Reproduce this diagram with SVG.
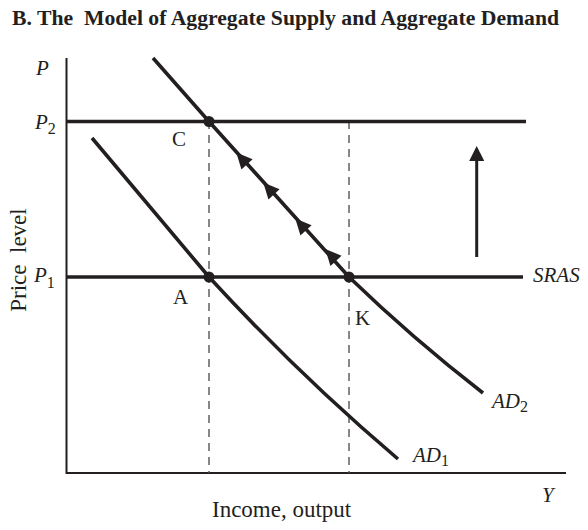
<svg xmlns="http://www.w3.org/2000/svg" width="588" height="530" viewBox="0 0 588 530">
<style>
.t{font-family:"Liberation Serif","Times New Roman",serif;fill:#231f20}
.it{font-style:italic}
.sub{font-style:normal;font-size:16px}
.axis{stroke:#231f20;stroke-width:2;fill:none}
.curve{stroke:#231f20;stroke-width:3.6;fill:none}
.hline{stroke:#231f20;stroke-width:3.5}
.dash{stroke:#555;stroke-width:1.4;stroke-dasharray:8,6}
.dot{fill:#231f20}
</style>
<defs>
<marker id="ah" viewBox="0 0 10 10" refX="2" refY="5" markerWidth="5" markerHeight="5" orient="auto" markerUnits="strokeWidth"><path d="M0,0 L10,5 L0,10 z" fill="#231f20"/></marker>
<path id="head" d="M0,0 L16,-7.5 L16,7.5 z" fill="#231f20"/>
</defs>
<rect width="588" height="530" fill="#fff"/>
<text class="t" x="12" y="25" font-size="21.7" font-weight="bold" xml:space="preserve">B. The  Model of Aggregate Supply and Aggregate Demand</text>
<g id="axes">
<path class="axis" d="M66.5,58 V473 H566"/>
<text class="t it" x="36" y="75" font-size="21">P</text>
<text class="t it" x="542" y="502" font-size="21">Y</text>
<text class="t" x="212" y="517" font-size="23">Income, output</text>
<text class="t" font-size="23" text-anchor="middle" transform="translate(25.5,260) rotate(-90)" xml:space="preserve">Price  level</text>
</g>
<g id="guides">
<line class="dash" x1="209" y1="121" x2="209" y2="473"/>
<line class="dash" x1="349" y1="121" x2="349" y2="473"/>
</g>
<g id="P2-line">
<line class="hline" x1="66" y1="121.5" x2="526" y2="121.5"/>
<text class="t it" x="35" y="129" font-size="21">P<tspan class="sub" dy="5">2</tspan></text>
</g>
<g id="SRAS">
<line class="hline" x1="66" y1="277" x2="523" y2="277"/>
<text class="t it" x="34" y="282" font-size="21">P<tspan class="sub" dy="5.5">1</tspan></text>
<text class="t it" x="533" y="281.5" font-size="21">SRAS</text>
</g>
<g id="AD1">
<path class="curve" d="M92,138 L209,277 Q300,376 398,459"/>
<text class="t it" x="413" y="462" font-size="21">AD<tspan class="sub" dy="4">1</tspan></text>
</g>
<g id="AD2">
<path class="curve" d="M153,58 L209,121.5 L349,277 Q412,338 483,393"/>
<text class="t it" x="492" y="408" font-size="21">AD<tspan class="sub" dy="4">2</tspan></text>
</g>
<g id="connectors">
<line x1="476.7" y1="257" x2="476.7" y2="158" stroke="#231f20" stroke-width="3" marker-end="url(#ah)"/>
<use href="#head" transform="translate(236.3,152.5) rotate(48)"/>
<use href="#head" transform="translate(263.3,182.5) rotate(48)"/>
<use href="#head" transform="translate(295.3,218.5) rotate(48)"/>
<use href="#head" transform="translate(325.3,249) rotate(48)"/>
</g>
<g id="C"><circle class="dot" cx="209" cy="121.5" r="5.5"/><text class="t" x="172" y="146" font-size="21">C</text></g>
<g id="A"><circle class="dot" cx="209" cy="277" r="5.5"/><text class="t" x="173" y="304" font-size="21">A</text></g>
<g id="K"><circle class="dot" cx="349" cy="277" r="5.5"/><text class="t" x="355" y="325" font-size="21">K</text></g>
</svg>
